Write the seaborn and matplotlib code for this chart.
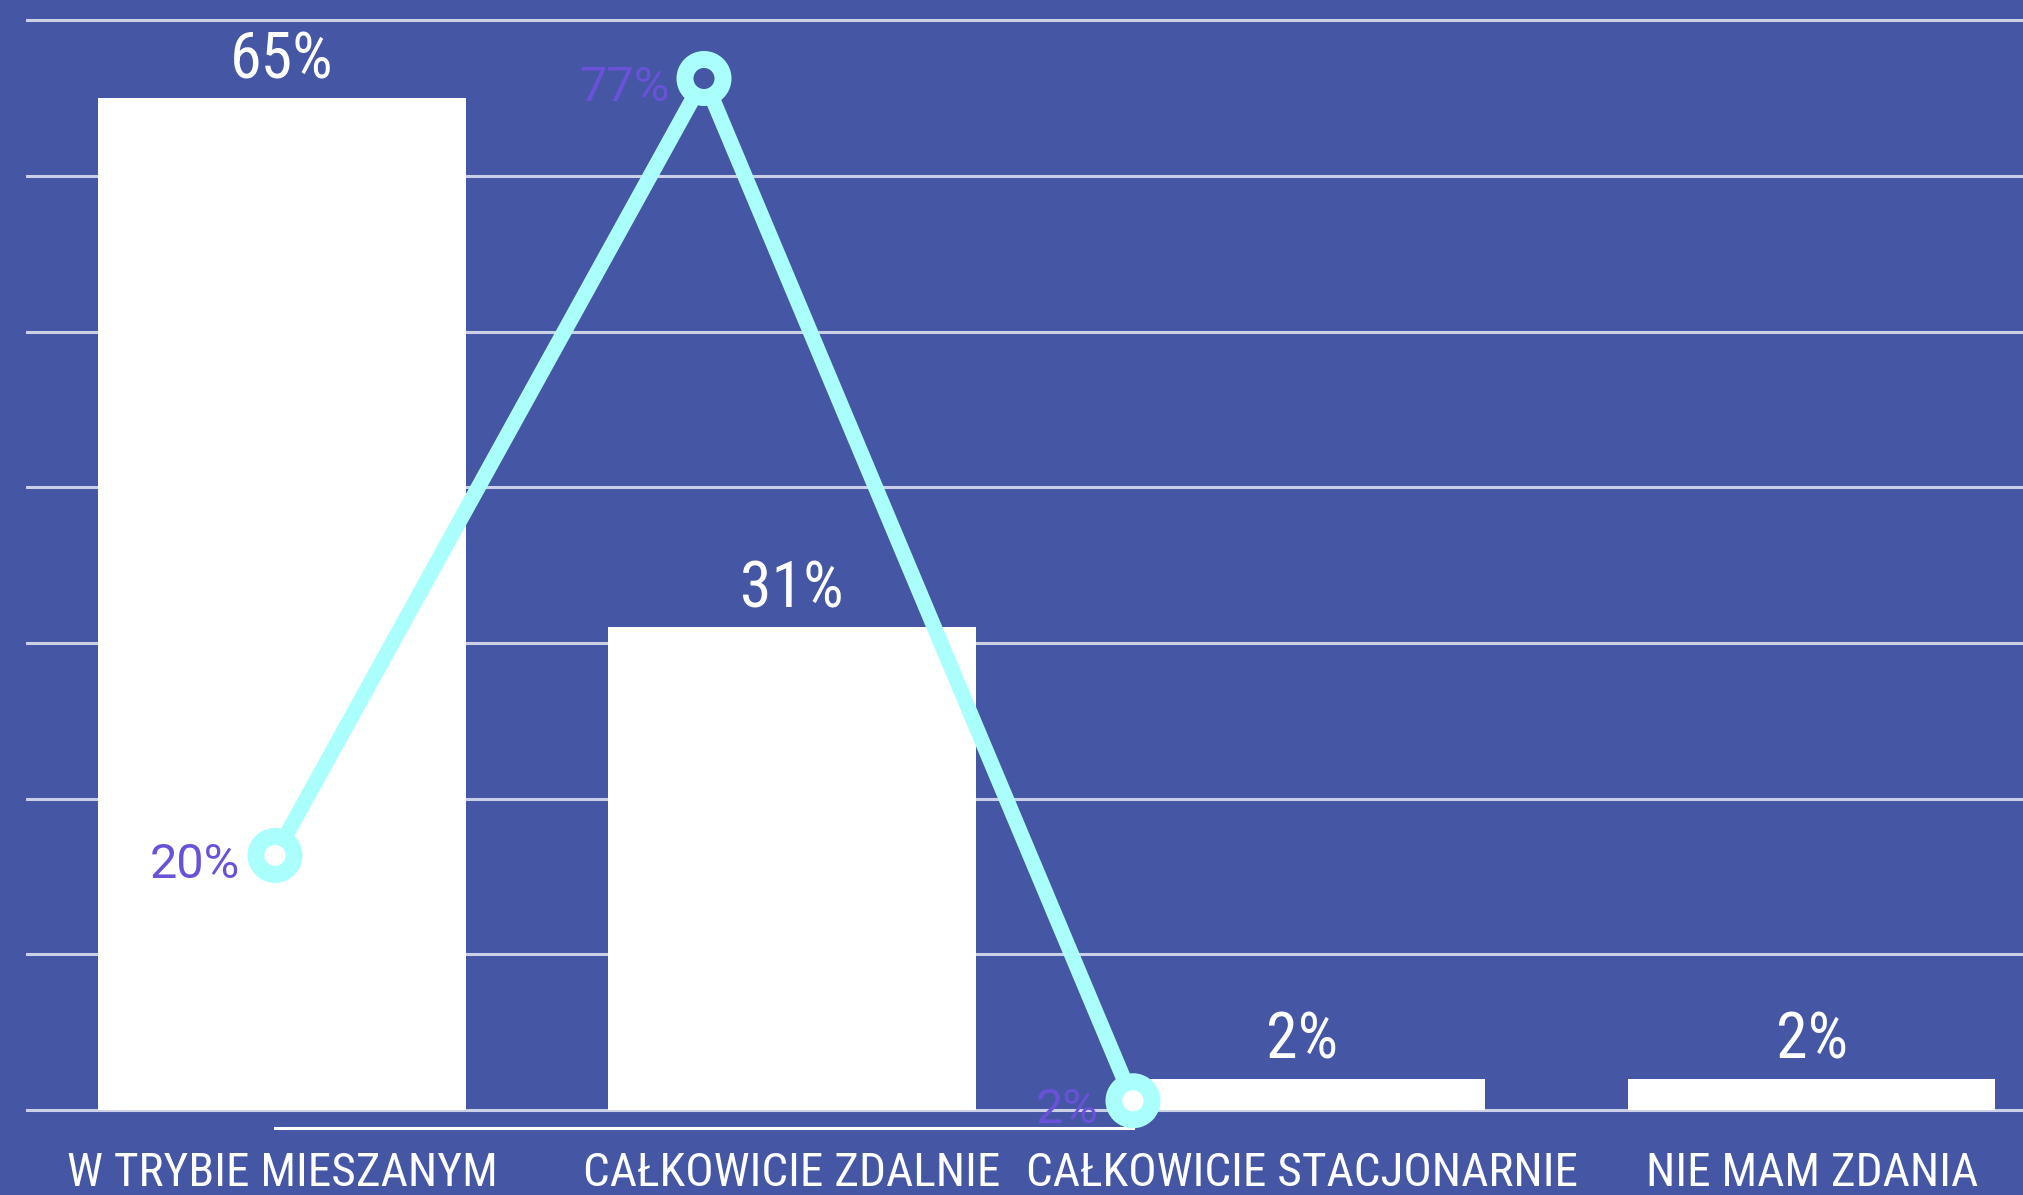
import matplotlib
matplotlib.use("Agg")
import matplotlib.pyplot as plt
from matplotlib import font_manager
import pandas as pd
import seaborn as sns

# Survey answers (bars) and the comparison series (line)
categories = ["W TRYBIE MIESZANYM", "CAŁKOWICIE ZDALNIE",
              "CAŁKOWICIE STACJONARNIE", "NIE MAM ZDANIA"]
bar_values = [65, 31, 2, 2]
line_values = [20, 77, 2]
grid_ticks = [0, 10, 20, 30, 40, 50, 60, 70]

BG = "#4556A4"
CYAN = "#AAFFFD"
PURPLE = "#6A52D8"
GRID = "#CBCFE7"

sns.set_theme(style="white", rc={"figure.facecolor": BG, "axes.facecolor": BG,
                                 "savefig.facecolor": BG})

installed = {f.name for f in font_manager.fontManager.ttflist}


def pick(*names):
    for n in names:
        if n in installed:
            return n
    return "DejaVu Sans"


NARROW = pick("Roboto Condensed", "Liberation Sans Narrow", "Roboto")
REGULAR = pick("Roboto", "Open Sans", "DejaVu Sans")
plt.rcParams["font.family"] = [NARROW, "DejaVu Sans"]

W, H = 2024, 1195
fig = plt.figure(figsize=(W / 100, H / 100), dpi=100)

# --- bar layer -----------------------------------------------------------
px_per_pct = 15.565
y_lo = -0.5
base_px = 1110 + (-y_lo) * px_per_pct  # pixel row of the lower axes edge
ax = fig.add_axes([26 / W, (H - base_px) / H, 1998 / W, base_px / H])
df = pd.DataFrame({"kategoria": categories, "odsetek": bar_values})
sns.barplot(data=df, x="kategoria", y="odsetek", color="white", saturation=1,
            width=0.72, linewidth=0, ax=ax, zorder=2)
ax.set_xlim(-0.502, 3.416)
ax.set_ylim(y_lo, 1110 / px_per_pct)
ax.set_yticks(grid_ticks)
ax.yaxis.grid(True, color=GRID, linewidth=2.2)
ax.set_axisbelow(True)
ax.tick_params(axis="y", left=False, labelleft=False)
ax.tick_params(axis="x", length=0, pad=24, labelsize=34, labelcolor="white")
ax.set_xlabel("")
ax.set_ylabel("")
for s in ax.spines.values():
    s.set_visible(False)

for i, v in enumerate(bar_values):
    ax.annotate(f"{v}%", (i, v), xytext=(0, 14.5), textcoords="offset points",
                ha="center", va="baseline", color="white", fontsize=46)

# --- line layer ----------------------------------------------------------
line_px = 13.63
ax2 = fig.add_axes([275 / W, (H - 1128) / H, 858 / W, 1128 / H])
ax2.patch.set_visible(False)
xs = list(range(len(line_values)))
sns.lineplot(x=xs, y=line_values, ax=ax2, color=CYAN, linewidth=11,
             solid_capstyle="butt", zorder=3, clip_on=False)
hole_colors = ["white", BG, "white"]
ax2.scatter(xs, line_values, s=27.4 ** 2, facecolors=hole_colors,
            edgecolors=CYAN, linewidths=12.2, zorder=4, clip_on=False)
ax2.set_xlim(0, len(line_values) - 1)
ax2.set_ylim(0, 1128 / line_px)
ax2.set_xticks([])
ax2.set_yticks([])
for name, s in ax2.spines.items():
    if name == "bottom":
        s.set_color("white")
        s.set_linewidth(2.2)
    else:
        s.set_visible(False)

for i, v in enumerate(line_values):
    ax2.annotate(f"{v}%", (i, v), xytext=(-25, -16), textcoords="offset points",
                 ha="right", va="baseline", color=PURPLE, fontsize=35,
                 family=[REGULAR, "DejaVu Sans"], zorder=5)

fig.savefig("out.png", dpi=100, facecolor=BG)
